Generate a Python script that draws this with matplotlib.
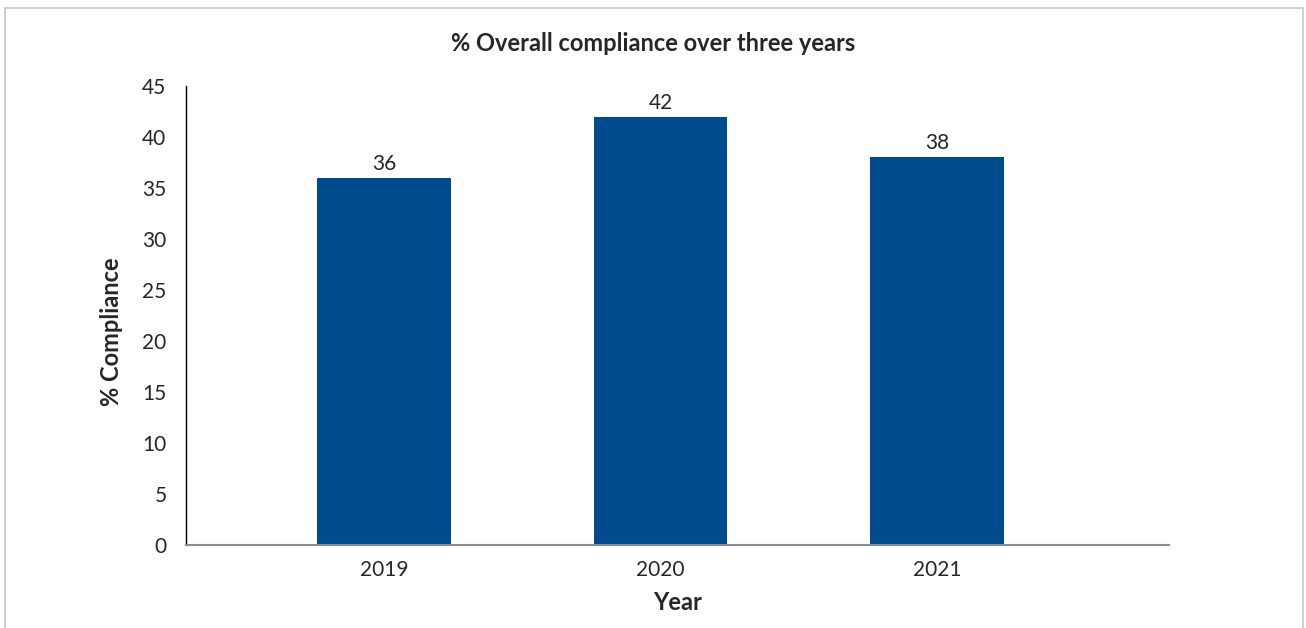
import matplotlib.pyplot as plt
from matplotlib.patches import Rectangle

years = ["2019", "2020", "2021"]
compliance = [36, 42, 38]

bar_color = "#004B8D"
text_color = "#262626"

plt.rcParams["font.family"] = ["Lato", "DejaVu Sans"]

fig = plt.figure(figsize=(13.06, 6.28), dpi=100)
ax = fig.add_axes([0.1424, 0.1322, 0.7527, 0.7308])

# outer frame around the chart
fig.patches.append(Rectangle((0.004, -0.01), 0.994, 0.998, transform=fig.transFigure,
                             fill=False, edgecolor="#c8c8c8", linewidth=1.2))

x = list(range(len(years)))
bars = ax.bar(x, compliance, width=0.483, color=bar_color)
for xi, v in zip(x, compliance):
    ax.text(xi, v + 0.4, f"{v}", ha="center", va="bottom", fontsize=15, color=text_color)

ax.set_xlim(-0.717, 2.84)
ax.set_ylim(0, 45)
ax.set_yticks(range(0, 46, 5))
ax.set_xticks(x)
ax.set_xticklabels(years)
ax.tick_params(axis="both", length=0, labelsize=15, labelcolor=text_color)
ax.tick_params(axis="y", pad=14)
ax.tick_params(axis="x", pad=11)

for side in ["top", "right"]:
    ax.spines[side].set_visible(False)
ax.spines["left"].set_color("#000000")
ax.spines["left"].set_linewidth(1.0)
ax.spines["bottom"].set_color("#8c8c8c")
ax.spines["bottom"].set_linewidth(1.5)

ax.set_xlabel("Year", fontsize=17, fontweight="bold", color=text_color, labelpad=8)
ax.set_ylabel("% Compliance", fontsize=17, fontweight="bold", color=text_color)
ax.yaxis.set_label_coords(-0.064, 0.465)
fig.text(0.5, 0.93, "% Overall compliance over three years", ha="center", va="center",
         fontsize=17, fontweight="bold", color=text_color)

fig.savefig("out.png", dpi=100)
